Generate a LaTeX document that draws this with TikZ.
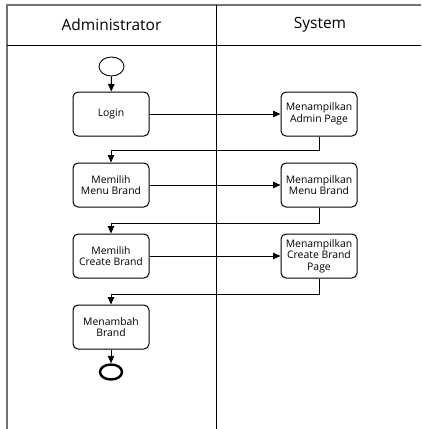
\documentclass[tikz,border=0pt]{standalone}
\usepackage{fontspec}
\setmainfont{Open Sans}
\usetikzlibrary{arrows.meta,shapes.geometric}
\begin{document}
\begin{tikzpicture}[x=1pt,y=-1pt,
  act/.style={draw, rounded corners=5pt, line width=1pt, minimum width=76pt, minimum height=44pt,
    align=center, font=\fontsize{10.4}{11.5}\selectfont, inner sep=1pt},
  flow/.style={-{Triangle[length=7.5pt,width=6.5pt]}, line width=0.9pt},
  frameline/.style={line width=1.2pt, draw=black!55},
  laneline/.style={line width=1pt, draw=black},
  hdr/.style={font=\fontsize{15.5}{18}\selectfont, inner sep=0pt}]
\useasboundingbox (0,0) rectangle (421,429);
% swimlane frame
\draw[frameline] (7,429) -- (7,5) -- (421,5);
\draw[laneline] (7,45) -- (421,45);
\draw[laneline] (216,5) -- (216,429);
\node[hdr] (hadm) at (111.5,25) {Administrator};
\node[hdr] (hsys) at (320,25) {System};
% nodes
\node[draw, ellipse, line width=0.9pt, minimum width=25pt, minimum height=19pt, inner sep=0pt] (start) at (111.5,66.5) {};
\node[act] (login) at (111,114) {Login};
\node[act] (admin) at (319,114) {Menampilkan\\Admin Page};
\node[act] (mmb) at (111,185) {Memilih\\Menu Brand};
\node[act] (smb) at (319,185) {Menampilkan\\Menu Brand};
\node[act] (mcb) at (111,256) {Memilih\\Create Brand};
\node[act] (scb) at (319,256) {Menampilkan\\Create Brand\\Page};
\node[act] (mab) at (111,327) {Menambah\\Brand};
\node[draw, ellipse, line width=2.4pt, minimum width=22pt, minimum height=15pt, inner sep=0pt] (end) at (111,372) {};
% return coordinates
\coordinate (r1) at (319,150);
\coordinate (r2) at (319,223);
\coordinate (r3) at (319,294);
% connectors
\draw[flow] (start) -- (login);
\draw[flow] (login) -- (admin);
\draw[flow] (admin.south) -- (r1) -| (mmb.north);
\draw[flow] (mmb) -- (smb);
\draw[flow] (smb.south) -- (r2) -| (mcb.north);
\draw[flow] (mcb) -- (scb);
\draw[flow] (scb.south) -- (r3) -| (mab.north);
\draw[flow] (mab) -- (end);
\end{tikzpicture}
\end{document}
